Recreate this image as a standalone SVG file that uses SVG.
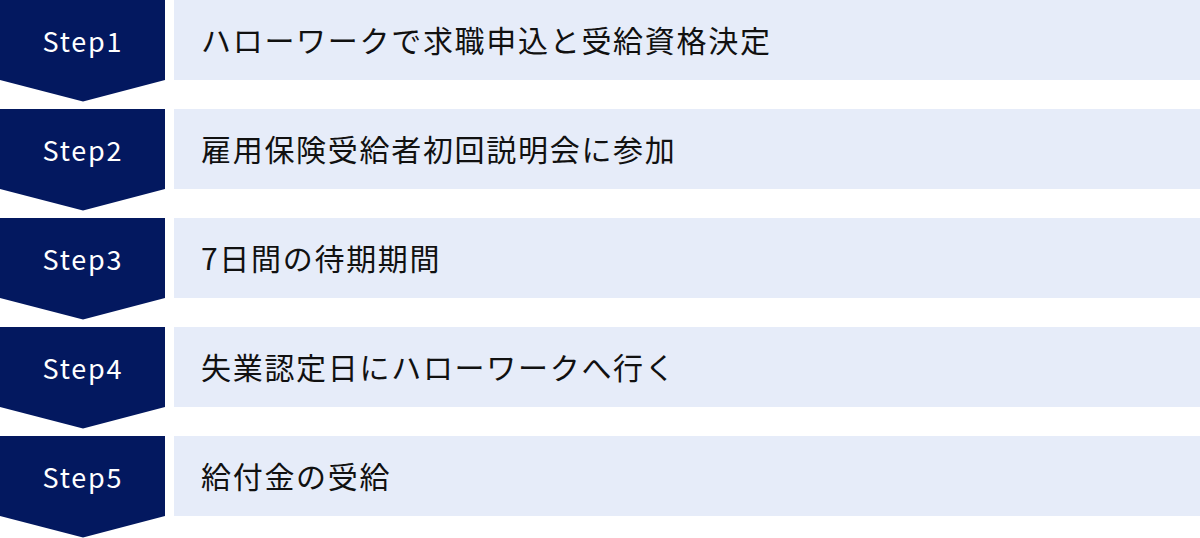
<svg xmlns="http://www.w3.org/2000/svg" width="1200" height="538" viewBox="0 0 1200 538">
<defs>
<style>
.tag{fill:#03185F}
.bar{fill:#E6ECF9}
.st{fill:#FFFFFF;font-family:"Noto Sans CJK JP","Noto Sans",sans-serif;font-size:27px;letter-spacing:1.8px;text-anchor:middle}
.lb{fill:#111111;font-family:"Noto Sans CJK JP","Noto Sans",sans-serif;font-size:30px;letter-spacing:1.7px}
</style>
<polygon id="chev" points="0,0 165,0 165,80 83,101.5 0,80"/>
</defs>
<rect width="1200" height="538" fill="#FFFFFF"/>
<g id="connectors"></g>
<g id="step1" transform="translate(0,0)">
<use href="#chev" class="tag"/>
<rect class="bar" x="174" y="0" width="1026" height="80"/>
<text class="st" x="83" y="52">Step1</text>
<text class="lb" x="201" y="52">ハローワークで求職申込と受給資格決定</text>
</g>
<g id="step2" transform="translate(0,109)">
<use href="#chev" class="tag"/>
<rect class="bar" x="174" y="0" width="1026" height="80"/>
<text class="st" x="83" y="52">Step2</text>
<text class="lb" x="201" y="52">雇用保険受給者初回説明会に参加</text>
</g>
<g id="step3" transform="translate(0,218)">
<use href="#chev" class="tag"/>
<rect class="bar" x="174" y="0" width="1026" height="80"/>
<text class="st" x="83" y="52">Step3</text>
<text class="lb" x="201" y="52">7日間の待期期間</text>
</g>
<g id="step4" transform="translate(0,327)">
<use href="#chev" class="tag"/>
<rect class="bar" x="174" y="0" width="1026" height="80"/>
<text class="st" x="83" y="52">Step4</text>
<text class="lb" x="201" y="52">失業認定日にハローワークへ行く</text>
</g>
<g id="step5" transform="translate(0,436)">
<use href="#chev" class="tag"/>
<rect class="bar" x="174" y="0" width="1026" height="80"/>
<text class="st" x="83" y="52">Step5</text>
<text class="lb" x="201" y="52">給付金の受給</text>
</g>
</svg>
